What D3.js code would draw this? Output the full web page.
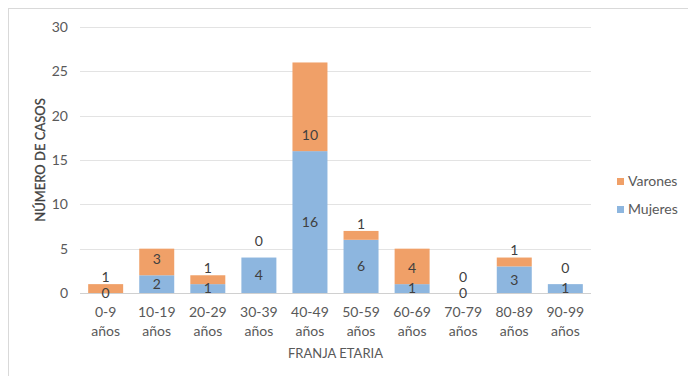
<!DOCTYPE html>
<html><head><meta charset="utf-8">
<script src="https://cdn.jsdelivr.net/npm/d3@7"></script>
<style>body{margin:0;background:#fff}svg{display:block}text{font-family:Lato,"Open Sans",sans-serif}</style>
</head><body><svg id="c" width="688" height="376"></svg>
<script>
const categories = ["0-9|años","10-19|años","20-29|años","30-39|años","40-49|años","50-59|años","60-69|años","70-79|años","80-89|años","90-99|años"];
const mujeres = [0,2,1,4,16,6,1,0,3,1];
const varones = [1,3,1,0,10,1,4,0,1,0];
const yTicks = [0,5,10,15,20,25,30];
const seriesNames = ["Mujeres","Varones"];
const colors = {Mujeres:"#8DB6DF", Varones:"#F0A068"};

const svg = d3.select("#c");
svg.append("rect").attr("x",8.5).attr("y",8.5).attr("width",700).attr("height",400)
  .attr("fill","#fff").attr("stroke","#d9d9d9");

const m = {l:80,r:97,t:27,b:83};
const W=688,H=376;
const x = d3.scaleBand().domain(categories).range([m.l, W-m.r]).paddingInner(0.315).paddingOuter(0.16);
const y = d3.scaleLinear().domain([0,30]).range([H-m.b, m.t]);

// gridlines
svg.append("g").selectAll("line").data(yTicks.filter(d=>d>0)).join("line")
  .attr("x1",m.l).attr("x2",W-m.r).attr("y1",d=>Math.round(y(d))+0.5).attr("y2",d=>Math.round(y(d))+0.5)
  .attr("stroke","#e3e3e3");

// y axis labels
const ya = svg.append("g").attr("transform",`translate(${m.l},0)`)
  .call(d3.axisLeft(y).tickValues(yTicks).tickSize(0).tickPadding(12));
ya.select(".domain").remove();
ya.selectAll("text").attr("font-size",14).attr("fill","#595959").style("font-family","Lato");

const rows = categories.map((c,i)=>({cat:c, Mujeres:mujeres[i], Varones:varones[i]}));
const stack = d3.stack().keys(seriesNames)(rows);

svg.append("g").selectAll("g").data(stack).join("g").attr("fill",d=>colors[d.key])
  .selectAll("rect").data(d=>d).join("rect")
  .attr("x",d=>x(d.data.cat)).attr("width",x.bandwidth())
  .attr("y",d=>y(d[1])).attr("height",d=>y(d[0])-y(d[1]));

// baseline
svg.append("line").attr("x1",m.l).attr("x2",W-m.r).attr("y1",Math.round(y(0))+0.5).attr("y2",Math.round(y(0))+0.5)
  .attr("stroke","#d0d0d0");

// data labels
const lab = svg.append("g").attr("font-size",14).attr("fill","#404040").attr("text-anchor","middle");
stack.forEach(s=>{
  s.forEach(d=>{
    const cx = x(d.data.cat)+x.bandwidth()/2;
    const v = d[1]-d[0];
    let cy = s.key==="Mujeres" ? (y(d[0])+y(d[1]))/2 : y(d[0]) - 16;
    lab.append("text").attr("x",cx).attr("y",cy).attr("dy","0.35em").text(v);
  });
});

// x labels
const xl = svg.append("g").attr("font-size",14).attr("fill","#595959").attr("text-anchor","middle");
categories.forEach(c=>{
  const parts=c.split("|");
  const t = xl.append("text").attr("x",x(c)+x.bandwidth()/2).attr("y",y(0)+24);
  t.append("tspan").attr("x",x(c)+x.bandwidth()/2).text(parts[0]);
  t.append("tspan").attr("x",x(c)+x.bandwidth()/2).attr("dy",19).text(parts[1]);
});

// axis titles
svg.append("text").attr("x",(m.l+W-m.r)/2).attr("y",358).attr("text-anchor","middle")
  .attr("font-size",13).attr("fill","#595959").text("FRANJA ETARIA");
svg.append("text").attr("transform","translate(45,160) rotate(-90)").attr("text-anchor","middle")
  .attr("font-size",13).attr("fill","#404040").attr("stroke","#404040").attr("stroke-width",0.3).text("NÚMERO DE CASOS");

// legend
const leg = svg.append("g");
["Varones","Mujeres"].forEach((k,i)=>{
  const yy = 181 + i*28;
  leg.append("rect").attr("x",617).attr("y",yy-3).attr("width",7).attr("height",7).attr("fill",colors[k]);
  leg.append("text").attr("x",628).attr("y",yy).attr("dy","0.35em").attr("font-size",14).attr("fill","#595959").text(k);
});
</script></body></html>
